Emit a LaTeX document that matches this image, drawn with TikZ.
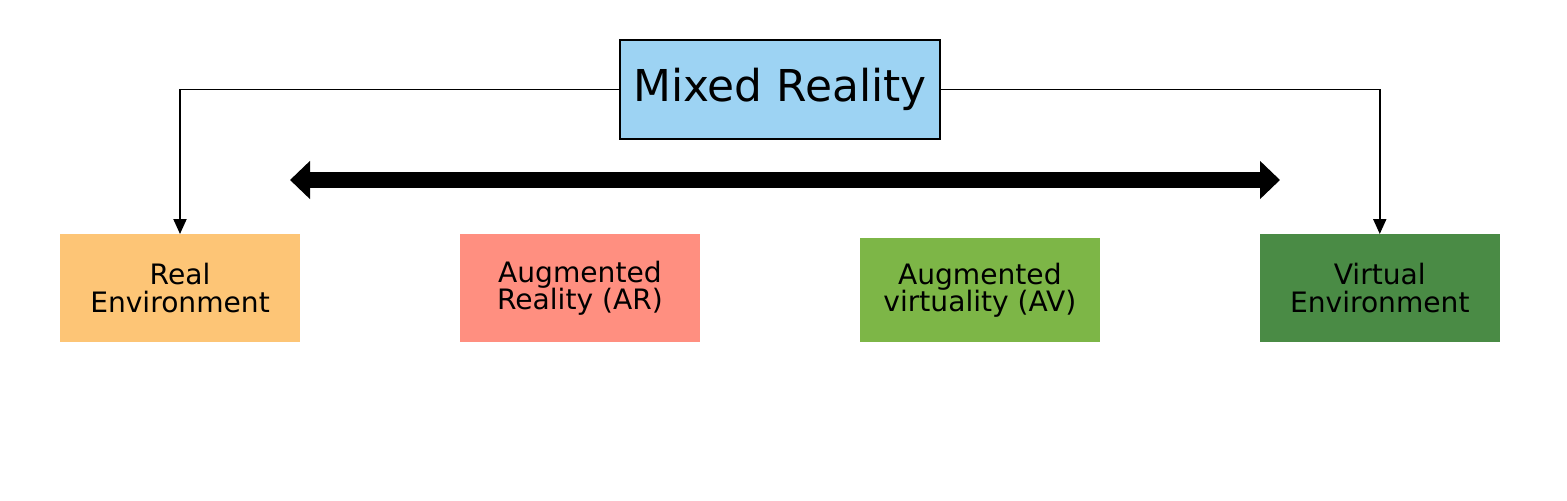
\documentclass[tikz,border=0pt]{standalone}
\usepackage{fontspec}
\setmainfont{DejaVu Sans}
\usetikzlibrary{arrows.meta,positioning}
\definecolor{mrblue}{RGB}{157,211,243}
\definecolor{realorange}{RGB}{253,197,118}
\definecolor{arsalmon}{RGB}{255,143,128}
\definecolor{avgreen}{RGB}{125,182,71}
\definecolor{vegreen}{RGB}{74,139,69}

\begin{document}
\begin{tikzpicture}[x=0.02cm,y=-0.02cm,node distance=3.2cm,
      env/.style={align=center,font=\fontsize{16}{15.5}\selectfont,minimum width=4.8cm,minimum height=2.16cm,inner sep=0pt,outer sep=0pt},
      conn/.style={line width=1.1pt,-{Triangle[length=3mm,width=2.6mm]}}]
    \useasboundingbox (0,0) rectangle (1567,500);
    \node[draw,line width=1.2pt,fill=mrblue,minimum width=6.4cm,minimum height=1.98cm,font=\fontsize{25}{26}\selectfont] (mr) at (780,89.5) {Mixed Reality};
    \node[env,fill=realorange] (real) at (180,288) {Real\\Environment};
    \node[env,fill=arsalmon,right=of real] (ar) {Augmented\\Reality (AR)};
    \node[env,fill=avgreen,minimum height=2.08cm,right=of ar.south east,anchor=south west] (av) {Augmented\\virtuality (AV)};
    \node[env,fill=vegreen,right=of ar,xshift=4.8cm+3.2cm] (ve) {Virtual\\Environment};
    % continuum
    \coordinate (lend) at (290,180);
    \coordinate (rend) at (1280,180);
    \draw[line width=0.32cm,{Triangle[length=0.4cm,width=0.74cm]}-{Triangle[length=0.4cm,width=0.74cm]}] (lend)--(rend);
    \draw[conn] (mr.west) -| (real.north);
    \draw[conn] (mr.east) -| (ve.north);
  \end{tikzpicture}
\end{document}
